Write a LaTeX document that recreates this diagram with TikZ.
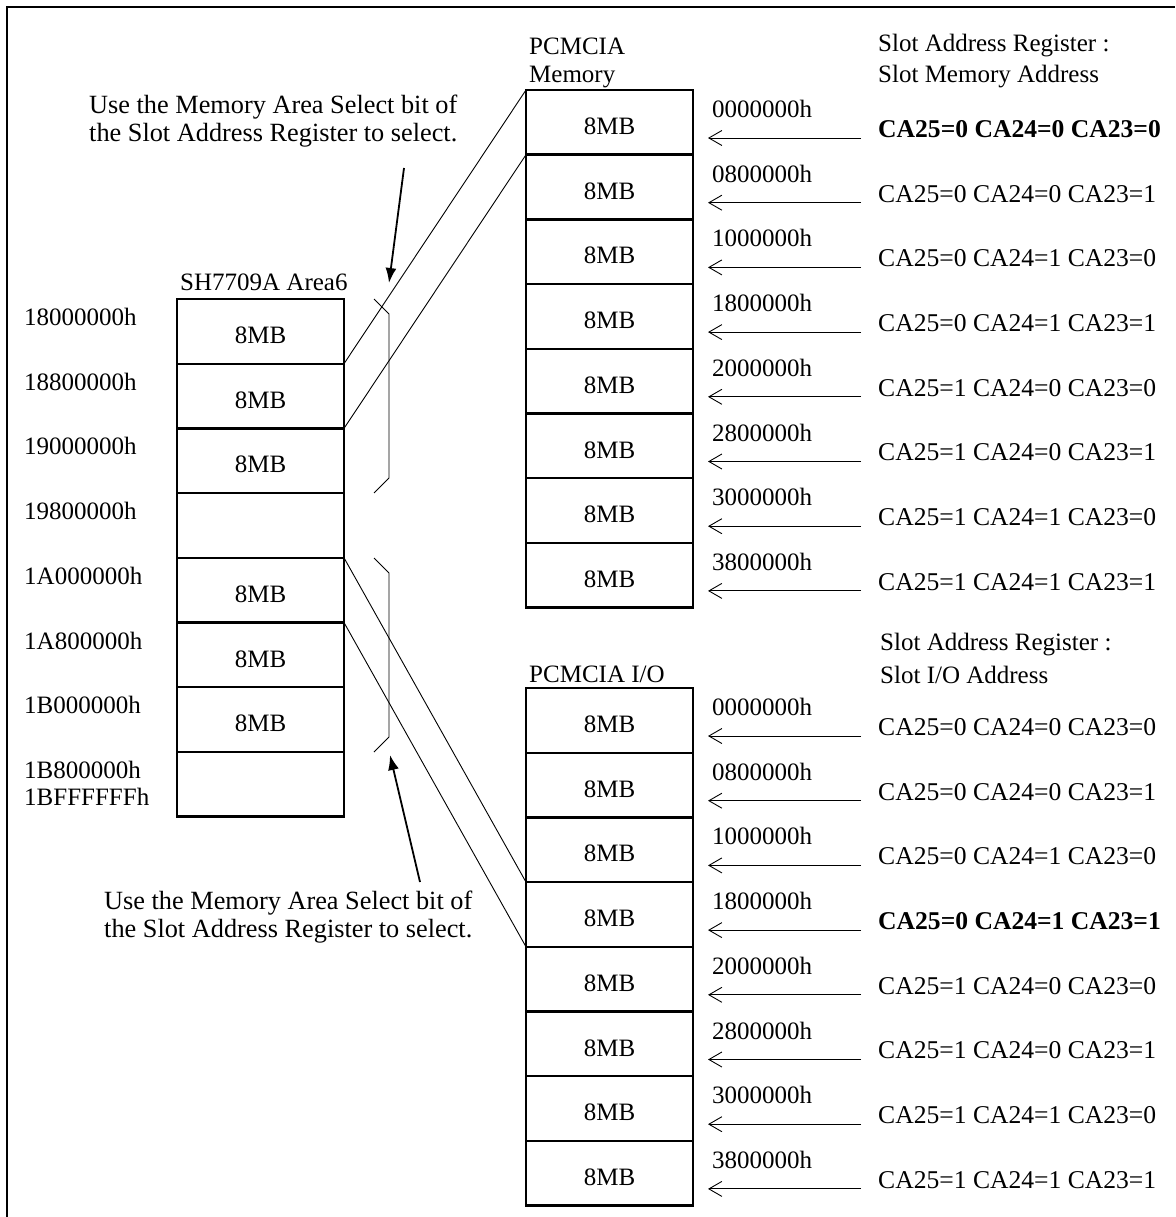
\documentclass[tikz,border=0pt]{standalone}
\usepackage{fontspec}
\setmainfont{Liberation Serif}
\usetikzlibrary{arrows.meta}
\begin{document}
\begin{tikzpicture}[x=1pt,y=-1pt,
  cell/.style={draw, line width=2.4pt, minimum width=167pt, minimum height=64.7pt, inner sep=0pt, outer sep=0pt},
  lbl/.style={font=\fontsize{25}{30}\selectfont, inner sep=0pt, yshift=-4pt},
  txt/.style={inner sep=0pt, anchor=west, font=\fontsize{25}{30}\selectfont},
  catxt/.style={inner sep=0pt, anchor=west, font=\fontsize{25.6}{30}\selectfont},
  notetxt/.style={inner sep=0pt, anchor=west, font=\fontsize{26.3}{30}\selectfont},
  regarrow/.style={-{Straight Barb[length=13pt,width=15pt,line width=0.9pt]}, line width=0.9pt},
  notearrow/.style={-{Latex[length=15pt,width=11pt]}, line width=1.8pt},
  mapline/.style={line width=0.9pt},
  bracket/.style={line width=0.9pt}]
\useasboundingbox (0,0) rectangle (1175,1217);
\fill[white] (0,0) rectangle (1175,1217);
% frame
\draw[line width=2pt] (7,1217) -- (7,7) -- (1175,7);

% left column
\foreach \i/\t in {1/8MB,2/8MB,3/8MB,4/,5/8MB,6/8MB,7/8MB,8/}
  \node[cell, label={[lbl]center:\t}] (L\i) at (260.5,{299+64.7*(\i-0.5)}) {};
\node[txt] (area6) at (180,282) {SH7709A Area6};
\foreach \i/\h in {1/18000000h,2/18800000h,3/19000000h,4/19800000h,5/1A000000h,6/1A800000h,7/1B000000h,8/1B800000h}
  \node[txt] (la\i) at (24,{299+64.7*(\i-1)+18}) {\h};
\node[txt] (la9) at (24,797) {1BFFFFFFh};

% PCMCIA memory
\node[txt] (pm1) at (529,46) {PCMCIA};
\node[txt] (pm2) at (529,77) {Memory};
\foreach \i in {1,...,8}
  \node[cell, label={[lbl]center:8MB}] (M\i) at (609.5,{90+64.7*(\i-0.5)}) {};
\foreach \i/\h in {1/0000000h,2/0800000h,3/1000000h,4/1800000h,5/2000000h,6/2800000h,7/3000000h,8/3800000h}{
  \node[txt] (mh\i) at (712,{90+64.7*(\i-1)+19}) {\h};
  \coordinate (mt\i) at (861,{90+64.7*(\i-1)+48});
  \coordinate (mp\i) at (708,{90+64.7*(\i-1)+48});
  \draw[regarrow] (mt\i) -- (mp\i);
}
\node[txt] (sm1) at (878,46) {Slot Address Register :};
\node[txt] (sm2) at (878,77) {Slot Memory Address};
\foreach \i/\c in {1/\textbf{CA25=0 CA24=0 CA23=0},2/CA25=0 CA24=0 CA23=1,3/CA25=0 CA24=1 CA23=0,4/CA25=0 CA24=1 CA23=1,5/CA25=1 CA24=0 CA23=0,6/CA25=1 CA24=0 CA23=1,7/CA25=1 CA24=1 CA23=0,8/CA25=1 CA24=1 CA23=1}
  \node[catxt] (mc\i) at (878,{90+64.7*(\i-1)+39}) {\c};

% PCMCIA I/O
\node[txt] (pio) at (529,674) {PCMCIA I/O};
\foreach \i in {1,...,8}
  \node[cell, label={[lbl]center:8MB}] (I\i) at (609.5,{688+64.7*(\i-0.5)}) {};
\foreach \i/\h in {1/0000000h,2/0800000h,3/1000000h,4/1800000h,5/2000000h,6/2800000h,7/3000000h,8/3800000h}{
  \node[txt] (ih\i) at (712,{688+64.7*(\i-1)+19}) {\h};
  \coordinate (it\i) at (861,{688+64.7*(\i-1)+48});
  \coordinate (ip\i) at (708,{688+64.7*(\i-1)+48});
  \draw[regarrow] (it\i) -- (ip\i);
}
\node[txt] (si1) at (880,645) {Slot Address Register :};
\node[txt] (si2) at (880,675) {Slot I/O Address};
\foreach \i/\c in {1/CA25=0 CA24=0 CA23=0,2/CA25=0 CA24=0 CA23=1,3/CA25=0 CA24=1 CA23=0,4/\textbf{CA25=0 CA24=1 CA23=1},5/CA25=1 CA24=0 CA23=0,6/CA25=1 CA24=0 CA23=1,7/CA25=1 CA24=1 CA23=0,8/CA25=1 CA24=1 CA23=1}
  \node[catxt] (ic\i) at (878,{688+64.7*(\i-1)+39}) {\c};

% mapping lines
\draw[mapline] (L2.north east) -- (M1.north west);
\draw[mapline] (L2.south east) -- (M1.south west);
\draw[mapline] (L5.north east) -- (I4.north west);
\draw[mapline] (L5.south east) -- (I4.south west);

% brackets
\draw[bracket] (374,299) -- (389,314) -- (389,478) -- (374,493);
\draw[bracket] (374,558) -- (389,573) -- (389,737) -- (374,752);

% annotations
\node[notetxt] (n1a) at (89,107) {Use the Memory Area Select bit of};
\node[notetxt] (n1b) at (89,135) {the Slot Address Register to select.};
\coordinate (n1s) at (404,168);
\coordinate (n1e) at (389,283);
\draw[notearrow] (n1s) -- (n1e);
\node[notetxt] (n2a) at (104,903) {Use the Memory Area Select bit of};
\node[notetxt] (n2b) at (104,931) {the Slot Address Register to select.};
\coordinate (n2s) at (420,882);
\coordinate (n2e) at (390,755);
\draw[notearrow] (n2s) -- (n2e);
\end{tikzpicture}
\end{document}
